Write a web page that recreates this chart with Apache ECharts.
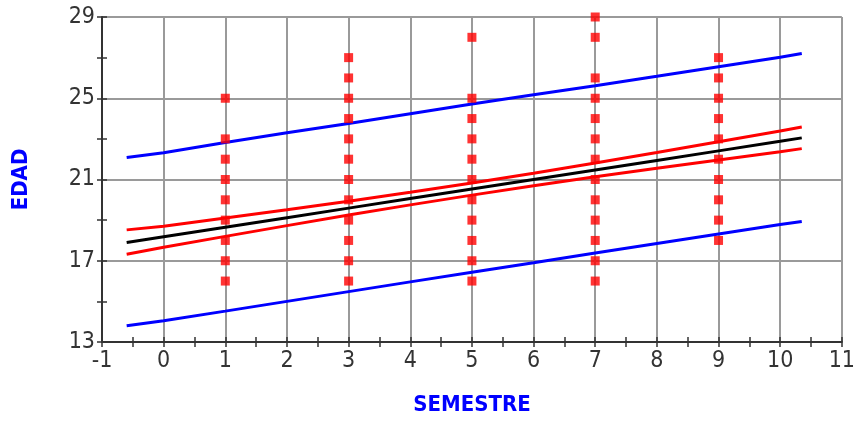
<!DOCTYPE html>
<html><head><meta charset="utf-8">
<script src="https://cdn.jsdelivr.net/npm/echarts@6/dist/echarts.min.js"></script>
<style>html,body{margin:0;padding:0;background:#fff}#c{width:858px;height:421px}</style>
</head><body><div id="c"></div>
<script>
// Observed points: semester -> list of ages
const semesters = [1, 3, 5, 7, 9];
const agesS1 = [16, 17, 18, 19, 20, 21, 22, 23, 25];
const agesS3 = [16, 17, 18, 19, 20, 21, 22, 23, 24, 25, 26, 27];
const agesS5 = [16, 17, 18, 19, 20, 21, 22, 23, 24, 25, 28];
const agesS7 = [16, 17, 18, 19, 20, 21, 22, 23, 24, 25, 26, 28, 29];
const agesS9 = [18, 19, 20, 21, 22, 23, 24, 25, 26, 27];
const agesBySemester = [agesS1, agesS3, agesS5, agesS7, agesS9];

// Fitted lines
const lineX       = [-0.6, 0, 1, 2, 3, 4, 5, 6, 7, 8, 9, 10, 10.35];
const fitLine     = [17.90, 18.18, 18.65, 19.12, 19.59, 20.06, 20.53, 21.00, 21.47, 21.94, 22.41, 22.88, 23.05];
const confUpper   = [18.52, 18.70, 19.10, 19.51, 19.93, 20.37, 20.83, 21.31, 21.81, 22.33, 22.86, 23.39, 23.58];
const confLower   = [17.32, 17.66, 18.20, 18.73, 19.25, 19.75, 20.23, 20.69, 21.13, 21.55, 21.96, 22.37, 22.52];
const predUpper   = [22.08, 22.32, 22.82, 23.30, 23.76, 24.24, 24.72, 25.17, 25.62, 26.08, 26.55, 27.02, 27.20];
const predLower   = [13.80, 14.05, 14.52, 15.00, 15.48, 15.96, 16.43, 16.90, 17.38, 17.85, 18.32, 18.78, 18.93];

const xTitle = 'SEMESTRE';
const yTitle = 'EDAD';

const pts = [];
semesters.forEach((s, i) => agesBySemester[i].forEach(a => pts.push([s, a])));
const pair = arr => lineX.map((x, i) => [x, arr[i]]);

const font = "'Liberation Sans Narrow','DejaVu Sans Condensed',Arial,sans-serif";
const lineSeries = (data, color) => ({
  type: 'line', data: pair(data), showSymbol: false, symbol: 'none',
  lineStyle: { color: color, width: 3 }, z: 2, silent: true, animation: false
});
const tickStyle = { color: '#333', width: 1.5 };
const ghostLine = { show: true, onZero: false, lineStyle: { color: 'rgba(0,0,0,0)', width: 1 } };

const chart = echarts.init(document.getElementById('c'), null, { renderer: 'canvas' });
chart.setOption({
  animation: false,
  grid: { left: 102, right: 10, top: 17, bottom: 79, containLabel: false },
  xAxis: [{
    type: 'value', min: -1, max: 11, interval: 1,
    axisLine: { show: true, onZero: false, lineStyle: { color: '#333', width: 2 } },
    axisTick: { show: true, length: 5, lineStyle: tickStyle },
    minorTick: { show: true, splitNumber: 2, length: 5, lineStyle: tickStyle },
    axisLabel: { color: '#333', fontFamily: font, fontSize: 23, margin: 8 },
    splitLine: { show: true, lineStyle: { color: '#9a9a9a', width: 2 } },
    name: xTitle, nameLocation: 'middle', nameGap: 52,
    nameTextStyle: { color: '#0000ff', fontFamily: font, fontSize: 22, fontWeight: 'bold' }
  }, {
    type: 'value', min: -1, max: 11, interval: 1, position: 'bottom',
    axisLine: ghostLine,
    axisTick: { show: true, inside: true, length: 5, lineStyle: tickStyle },
    minorTick: { show: true, splitNumber: 2, length: 5, lineStyle: tickStyle },
    axisLabel: { show: false }, splitLine: { show: false }
  }],
  yAxis: [{
    type: 'value', min: 13, max: 29, interval: 4,
    axisLine: { show: true, onZero: false, lineStyle: { color: '#333', width: 2 } },
    axisTick: { show: true, length: 5, lineStyle: tickStyle },
    minorTick: { show: true, splitNumber: 2, length: 5, lineStyle: tickStyle },
    axisLabel: { color: '#333', fontFamily: font, fontSize: 23, margin: 7 },
    splitLine: { show: true, lineStyle: { color: '#9a9a9a', width: 2 } },
    name: yTitle, nameLocation: 'middle', nameGap: 70, nameRotate: 90,
    nameTextStyle: { color: '#0000ff', fontFamily: font, fontSize: 22, fontWeight: 'bold' }
  }, {
    type: 'value', min: 13, max: 29, interval: 4, position: 'left',
    axisLine: ghostLine,
    axisTick: { show: true, inside: true, length: 5, lineStyle: tickStyle },
    minorTick: { show: true, splitNumber: 2, length: 5, lineStyle: tickStyle },
    axisLabel: { show: false }, splitLine: { show: false }
  }],
  series: [
    lineSeries(predUpper, '#0000ff'),
    lineSeries(predLower, '#0000ff'),
    lineSeries(confUpper, '#ff0000'),
    lineSeries(confLower, '#ff0000'),
    lineSeries(fitLine, '#000000'),
    {
      type: 'scatter', data: pts, symbol: 'rect', symbolSize: 9,
      itemStyle: { color: '#ff0000' }, z: 5, animation: false
    },
    { type: 'scatter', data: [], xAxisIndex: 1, yAxisIndex: 1, silent: true }
  ]
});
</script>
</body></html>
